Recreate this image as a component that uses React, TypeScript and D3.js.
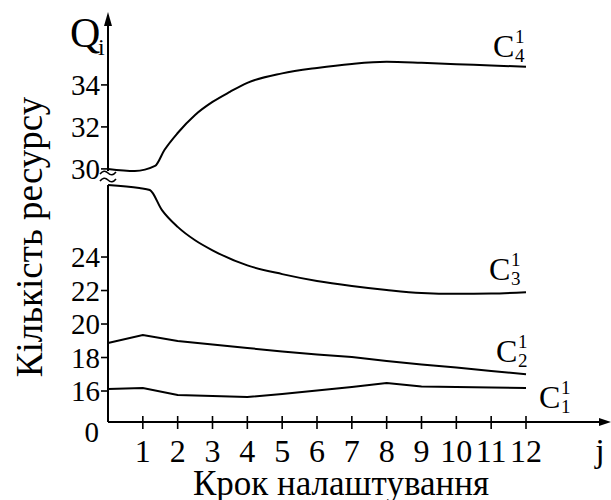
import React from "react";
import * as d3 from "d3";

// values
const stepTicks = [1, 2, 3, 4, 5, 6, 7, 8, 9, 10, 11, 12];
const lowerTicks = [16, 18, 20, 22, 24];
const upperTicks = [30, 32, 34];

const c1Steps = [0, 1, 2, 3, 4, 5, 6, 7, 8, 9, 10, 11, 12];
const c1Values = [16.12, 16.18, 15.76, 15.7, 15.64, 15.82, 16.03, 16.24, 16.48, 16.27, 16.24, 16.21, 16.18];

const c2Steps = [0, 1, 2, 3, 4, 5, 6, 7, 8, 9, 10, 11, 12];
const c2Values = [18.87, 19.34, 18.99, 18.78, 18.57, 18.36, 18.18, 18.03, 17.79, 17.58, 17.4, 17.19, 17.0];

const c3Steps = [0, 0.9, 1.2, 1.55, 2, 2.5, 3, 4, 5, 6, 7, 8, 9, 10, 11, 12];
const c3Values = [28.3, 28.12, 28.0, 26.8, 25.8, 25.0, 24.4, 23.5, 22.98, 22.57, 22.27, 22.03, 21.85, 21.8, 21.82, 21.9];

const c4Steps = [0, 0.77, 1.35, 1.62, 2, 2.5, 3, 3.5, 4, 5, 6, 7, 8, 9, 10, 11, 12];
const c4Values = [30.0, 29.9, 30.14, 30.9, 31.71, 32.57, 33.19, 33.67, 34.1, 34.55, 34.81, 35.0, 35.1, 35.05, 34.98, 34.93, 34.86];

const font = "Liberation Serif, Tinos, DejaVu Serif, serif";

const App = () => {
  const width = 611;
  const height = 500;

  const x = d3.scaleLinear().domain([0, 12]).range([108, 526]);
  // broken axis: lower part and upper part
  const yLow = d3.scaleLinear().domain([14.15, 28.3]).range([422, 185]);
  const yUp = d3.scaleLinear().domain([29.9, 37.33]).range([171, 15]);

  const x0 = x(0);
  const yAxis = yLow(14.15);

  const lineLow = (curve: d3.CurveFactory) =>
    d3
      .line<[number, number]>()
      .x((d) => x(d[0]))
      .y((d) => yLow(d[1]))
      .curve(curve);
  const lineUp = d3
    .line<[number, number]>()
    .x((d) => x(d[0]))
    .y((d) => yUp(d[1]))
    .curve(d3.curveMonotoneX);

  const zip = (a: number[], b: number[]) => a.map((v, i) => [v, b[i]] as [number, number]);

  const series = [
    { name: "4", path: lineUp(zip(c4Steps, c4Values)), endY: yUp(c4Values[c4Values.length - 1]), dx: -33, dy: -10 },
    { name: "3", path: lineLow(d3.curveMonotoneX)(zip(c3Steps, c3Values)), endY: yLow(c3Values[c3Values.length - 1]), dx: -37, dy: -12 },
    { name: "2", path: lineLow(d3.curveLinear)(zip(c2Steps, c2Values)), endY: yLow(c2Values[c2Values.length - 1]), dx: -30, dy: -12 },
    { name: "1", path: lineLow(d3.curveLinear)(zip(c1Steps, c1Values)), endY: yLow(c1Values[c1Values.length - 1]), dx: 13, dy: 20 },
  ];

  const wave = (cy: number) =>
    `M${x0 - 8},${cy + 1} q4,-5 8,-1 q4,4 8,-1`;

  const ts = { fontFamily: font };

  return (
    <svg
      width={width}
      height={height}
      style={{ position: "absolute", left: 0, top: 0, background: "#fff", fontFamily: font }}
    >
      {/* y axis, broken */}
      <line x1={x0} x2={x0} y1={22} y2={yUp(29.9)} stroke="#000" strokeWidth={2} />
      <line x1={x0} x2={x0} y1={yLow(28.3)} y2={yAxis} stroke="#000" strokeWidth={2} />
      <path d={`M${x0},12 L${x0 - 4},26 L${x0 + 4},26 Z`} fill="#000" />
      <path d={wave(173)} fill="none" stroke="#000" strokeWidth={1.6} />
      <path d={wave(180)} fill="none" stroke="#000" strokeWidth={1.6} />

      {/* x axis */}
      <line x1={x0} x2={606} y1={yAxis} y2={yAxis} stroke="#000" strokeWidth={2} />
      <path d={`M611,${yAxis} L599,${yAxis - 4} L599,${yAxis + 4} Z`} fill="#000" />

      {upperTicks.map((t) => (
        <g key={"u" + t}>
          <line x1={x0 - 7} x2={x0} y1={yUp(t)} y2={yUp(t)} stroke="#000" strokeWidth={1.6} />
          <text style={ts} x={x0 - 8} y={yUp(t) + 10} textAnchor="end" fontSize={29}>
            {t}
          </text>
        </g>
      ))}
      {lowerTicks.map((t) => (
        <g key={"l" + t}>
          <line x1={x0 - 7} x2={x0} y1={yLow(t)} y2={yLow(t)} stroke="#000" strokeWidth={1.6} />
          <text style={ts} x={x0 - 8} y={yLow(t) + 10} textAnchor="end" fontSize={29}>
            {t}
          </text>
        </g>
      ))}
      <text style={ts} x={x0 - 9} y={yAxis + 20} textAnchor="end" fontSize={29}>
        0
      </text>

      {stepTicks.map((t) => (
        <g key={"x" + t}>
          <line x1={x(t)} x2={x(t)} y1={yAxis - 6} y2={yAxis + 7} stroke="#000" strokeWidth={1.6} />
          <text style={ts} x={x(t)} y={yAxis + 40} textAnchor="middle" fontSize={32}>
            {t}
          </text>
        </g>
      ))}

      {series.map((s) => (
        <g key={s.name}>
          <path d={s.path || ""} fill="none" stroke="#000" strokeWidth={2} />
          <text style={ts} x={x(12) + s.dx} y={s.endY + s.dy} fontSize={32}>
            C
          </text>
          <text style={ts} x={x(12) + s.dx + 22} y={s.endY + s.dy - 14} fontSize={19}>
            1
          </text>
          <text style={ts} x={x(12) + s.dx + 22} y={s.endY + s.dy + 5} fontSize={19}>
            {s.name}
          </text>
        </g>
      ))}

      {/* axis names */}
      <text style={ts} x={70} y={47} fontSize={42}>
        Q
      </text>
      <text style={ts} x={98} y={55} fontSize={24}>
        i
      </text>
      <text style={ts} x={600} y={yAxis + 40} textAnchor="middle" fontSize={34}>
        j
      </text>
      <text style={ts} x={341} y={495} textAnchor="middle" fontSize={35}>
        Крок налаштування
      </text>
      <text
        style={ts}
        transform="translate(42,237) rotate(-90)"
        textAnchor="middle"
        fontSize={37}
      >
        Кількість ресурсу
      </text>
    </svg>
  );
};

export default App;
